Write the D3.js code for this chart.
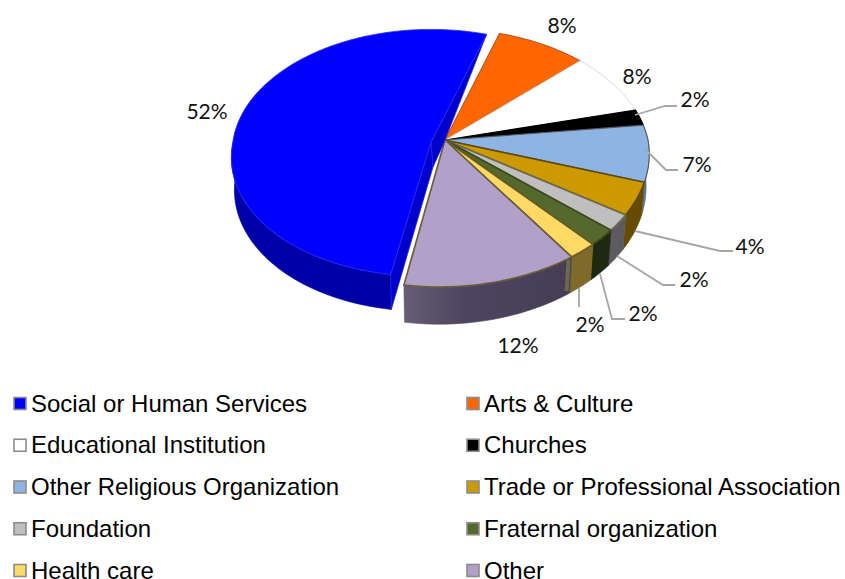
<!DOCTYPE html>
<html>
<head>
<meta charset="utf-8">
<script src="https://cdn.jsdelivr.net/npm/d3@7/dist/d3.min.js"></script>
<style>
  html, body { margin: 0; background: #fff; }
  svg { display: block; }
  .pct { font-family: Lato, "Open Sans", sans-serif; font-size: 21px; fill: #111; text-anchor: middle; dominant-baseline: central; }
  .leg { font-family: "Liberation Sans", Arial, sans-serif; font-size: 24px; fill: #000; dominant-baseline: central; }
</style>
</head>
<body>
<svg id="chart" width="845" height="579"></svg>
<script>
// Survey shares by organisation type
const categories = ["Social or Human Services", "Arts & Culture", "Educational Institution", "Churches",
  "Other Religious Organization", "Trade or Professional Association", "Foundation",
  "Fraternal organization", "Health care", "Other"];
const shares = [52, 8, 8, 2, 7, 4, 2, 2, 2, 12];

const topColors  = ["#0000ff", "#ff6600", "#ffffff", "#000000", "#8db4e2", "#cc9900", "#bfbfbf", "#546a2c", "#ffd966", "#b1a0c7"];
const wallColors = ["#0000a8", "#a84400", "#dddddd", "#000000", "#5d7796", "#664c00", "#5c5c60", "#1e2a10", "#7f6a2c", "#4b4259"];
const edgeColors = ["#2b2bf5", "#b8561e", "#d0d0d0", "#000000", "#55575c", "#5c4a14", "#6e6a50", "#3f4a1e", "#6b5a24", "#6b5f3a"];

// Projection of the tilted disc: theta is clockwise from the back of the pie.
// The skew only leans the near half of each disc.
const mainDisc = { cx: 445, cy: 140, a: 203, b: 126.6, k: 0.139, skew: -6 };
const liftedDisc = { cx: 431, cy: 142, a: 198, b: 122.4, k: 0.087, skew: -8 };
const depth = 32, taper = 0.985, startDeg = -171.4;

function project(disc, theta) {
  const u = Math.sin(theta), v = -Math.cos(theta), s = 1 / (1 - disc.k * v);
  return { x: disc.cx + disc.a * u * s + disc.skew * Math.max(0, v), y: disc.cy + disc.b * v * s, s };
}
function lower(disc, p) {
  return { x: disc.cx + (p.x - disc.cx) * taper, y: p.y + depth * p.s };
}
const rad = d => d * Math.PI / 180;

const arcs = d3.pie().value(d => d).sort(null)
  .startAngle(rad(startDeg)).endAngle(rad(startDeg + 360))(shares);

function rim(disc, a) {
  const n = Math.max(4, Math.ceil((a.endAngle - a.startAngle) / rad(1.5)));
  return d3.range(n + 1).map(i => project(disc, a.startAngle + (a.endAngle - a.startAngle) * i / n));
}
const line = d3.line().x(d => d.x).y(d => d.y);
const closed = pts => line(pts) + "Z";

const svg = d3.select("#chart");
const defs = svg.append("defs");
const otherWall = defs.append("linearGradient").attr("id", "otherWall");
otherWall.append("stop").attr("offset", "0").attr("stop-color", "#665d75");
otherWall.append("stop").attr("offset", "0.35").attr("stop-color", "#4e4560");
otherWall.append("stop").attr("offset", "1").attr("stop-color", "#453c55");

const wallFill = i => i === 9 ? "url(#otherWall)" : wallColors[i];

function drawWall(g, disc, a, i) {
  const top = rim(disc, a);
  const bottom = top.map(p => lower(disc, p)).reverse();
  g.append("path").attr("d", closed(top.concat(bottom)))
    .attr("fill", wallFill(i)).attr("stroke", wallFill(i)).attr("stroke-width", 0.6);
}
function drawTop(g, disc, a, i, width) {
  const apex = { x: disc.cx, y: disc.cy };
  g.append("path").attr("d", closed([apex].concat(rim(disc, a))))
    .attr("fill", topColors[i]).attr("stroke", edgeColors[i])
    .attr("stroke-width", width).attr("stroke-linejoin", "round");
}

// Main body: every slice but the pulled-out first one
const body = svg.append("g");
arcs.forEach((a, i) => { if (i > 2) drawWall(body, mainDisc, a, i); });

// Olive strip where the last slice's wall meets its neighbour
const seamTop = project(mainDisc, arcs[9].startAngle);
body.append("path")
  .attr("d", line([{ x: seamTop.x - 3, y: seamTop.y + 3 }, { x: seamTop.x - 5, y: lower(mainDisc, seamTop).y - 2 }]))
  .attr("stroke", "#6d6850").attr("stroke-width", 4).attr("fill", "none");

// White seam beside the detached slice
const otherEdge = project(mainDisc, arcs[9].endAngle);
body.append("path").attr("d", line([{ x: mainDisc.cx, y: mainDisc.cy }, otherEdge]))
  .attr("stroke", "#fff").attr("stroke-width", 3);

arcs.forEach((a, i) => { if (i > 0) drawTop(body, mainDisc, a, i, i === 2 ? 0.8 : i >= 5 ? 1.7 : 1.1); });

// Detached slice: outer wall, two cut faces, top
const lifted = svg.append("g");
drawWall(lifted, liftedDisc, { startAngle: arcs[0].startAngle, endAngle: rad(-60) }, 0);
const apexTop = { x: liftedDisc.cx, y: liftedDisc.cy };
const apexLow = { x: apexTop.x + 2, y: apexTop.y + 25 };
const apexSide = { x: apexTop.x + 12, y: apexTop.y + 3 };
const blueFront = project(liftedDisc, arcs[0].startAngle);
const blueBack = project(liftedDisc, arcs[0].endAngle);
lifted.append("path").attr("d", closed([blueFront, apexTop, apexLow, lower(liftedDisc, blueFront)]))
  .attr("fill", "#0000cc").attr("stroke", "#2222e0").attr("stroke-width", 0.8);
lifted.append("path").attr("d", closed([blueBack, apexTop, apexLow, apexSide]))
  .attr("fill", "#0000cc").attr("stroke", "#2222e0").attr("stroke-width", 0.8);
drawTop(lifted, liftedDisc, arcs[0], 0, 0.8);

// Percentage labels with their leader lines
const labelAnchors = [[207, 110], [562, 24], [637, 75], [695, 98], [697, 163], [750, 245], [694, 278], [643, 312], [590, 323], [518, 344]];
const leaderBends = [null, null, null,
  [[635, 115], [665, 106], [677, 106]],
  [[646, 150], [666, 170], [678, 170]],
  [[635, 231], [720, 251], [733, 251]],
  [[617, 256], [663, 285], [675, 285]],
  [[600, 274], [612, 319], [625, 319]],
  [[579, 288], [579, 307]],
  null];

svg.append("g").selectAll("path").data(leaderBends.filter(Boolean)).join("path")
  .attr("d", d => d3.line()(d)).attr("fill", "none")
  .attr("stroke", "#a6a6a6").attr("stroke-width", 1.8);

svg.append("g").selectAll("text").data(shares).join("text")
  .attr("class", "pct")
  .attr("x", (d, i) => labelAnchors[i][0]).attr("y", (d, i) => labelAnchors[i][1])
  .text(d => d + "%");

// Legend in two columns
const columnX = d3.scaleOrdinal().domain([0, 1]).range([14, 467]);
const rowY = d3.scaleLinear().domain([0, 4]).range([403, 570]);
const legend = svg.append("g").selectAll("g").data(categories).join("g")
  .attr("transform", (d, i) => `translate(${columnX(i % 2)},${rowY(Math.floor(i / 2))})`);
legend.append("rect").attr("x", 0).attr("y", -5.5).attr("width", 12).attr("height", 12)
  .attr("fill", (d, i) => topColors[i]).attr("stroke", "#8c8c8c").attr("stroke-width", 1.6);
legend.append("text").attr("class", "leg").attr("x", 17).attr("y", 0).text(d => d);
</script>
</body>
</html>
